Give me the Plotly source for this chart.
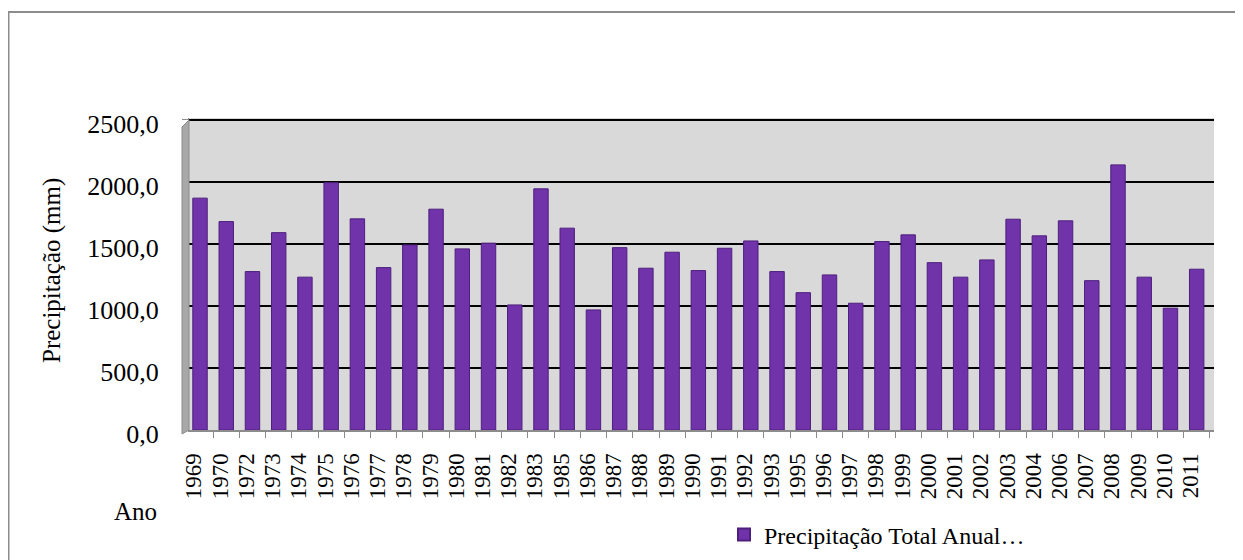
import plotly.graph_objects as go

anos = ["1969", "1970", "1972", "1973", "1974", "1975", "1976", "1977", "1978", "1979",
        "1980", "1981", "1982", "1983", "1985", "1986", "1987", "1988", "1989", "1990",
        "1991", "1992", "1993", "1995", "1996", "1997", "1998", "1999", "2000", "2001",
        "2002", "2003", "2004", "2006", "2007", "2008", "2009", "2010", "2011"]
precipitacao = [1869, 1680, 1277, 1591, 1232, 1994, 1702, 1309, 1492, 1780,
                1460, 1506, 1008, 1944, 1627, 968, 1470, 1304, 1433, 1285,
                1465, 1524, 1277, 1107, 1250, 1022, 1519, 1573, 1349, 1232,
                1371, 1699, 1565, 1686, 1204, 2137, 1232, 982, 1296]
y_ticks = [0, 500, 1000, 1500, 2000, 2500]
serie_nome = "Precipitação Total Anual…"

# page body margin of 8px offsets the figure; work in screen coordinates
OFF = 8
W, H = 1243 - OFF, 560 - OFF
PL, PR, PT, PB = 189, 1214, 118, 430  # plot area in screen coords
L, R, T, B = PL - OFF, W - (PR - OFF), PT - OFF, H - (PB - OFF)
PW, PH = W - L - R, H - T - B


def px(x):
    return (x - OFF - L) / PW


def py(y):
    return (H - B - (y - OFF)) / PH


FONT = "Liberation Serif"
PURPLE = "#7033AA"

fig = go.Figure()
fig.add_trace(go.Bar(
    x=anos, y=precipitacao, name=serie_nome,
    marker=dict(color=PURPLE, line=dict(color="#4E1F7E", width=1)),
    width=0.55,
))

fig.update_layout(
    width=W, height=H,
    margin=dict(l=L, r=R, t=T, b=B, autoexpand=False),
    paper_bgcolor="white",
    plot_bgcolor="#d9d9d9",
    separators=",.",
    font=dict(family=FONT, color="black", size=23),
    showlegend=True,
    legend=dict(
        x=px(724), y=py(535), xanchor="left", yanchor="middle",
        xref="paper", yref="paper",
        font=dict(family=FONT, size=24, color="black"),
        bgcolor="rgba(0,0,0,0)", itemsizing="constant",
    ),
    xaxis=dict(
        type="category",
        range=[-0.42, 38.66],
        tickmode="array", tickvals=anos, ticktext=anos,
        tickangle=-90,
        tickfont=dict(family=FONT, size=23, color="black"),
        ticks="outside", ticklen=6, tickcolor="#8c8c8c", tickwidth=1,
        tickson="boundaries",
        showline=True, linecolor="#8c8c8c", linewidth=2,
        showgrid=False,
        ticklabelstandoff=12,
        ticklabelshift=-6,
    ),
    yaxis=dict(
        range=[0, 2515],
        tickvals=y_ticks,
        tickformat=".1f",
        tickfont=dict(family=FONT, size=26, color="black"),
        ticks="outside", ticklen=6, tickcolor="#8c8c8c", tickwidth=1,
        showline=True, linecolor="#8c8c8c", linewidth=1,
        showgrid=True, gridcolor="black", gridwidth=2,
        zeroline=False,
        ticklabelstandoff=18,
        ticklabelshift=4,
    ),
    shapes=[
        # outer chart border
        dict(type="rect", xref="paper", yref="paper",
             x0=px(8.5), x1=px(1260), y0=py(580), y1=py(12),
             line=dict(color="#8c8c8c", width=2), fillcolor="rgba(0,0,0,0)",
             layer="above"),
        # 3D side wall
        dict(type="path", xref="paper", yref="paper",
             path=f"M {px(182)},{py(127)} L {px(189)},{py(120)} L {px(189)},{py(430)} L {px(182)},{py(434)} Z",
             fillcolor="#a8a8a8", line=dict(color="#8c8c8c", width=1), layer="above"),
    ],
    annotations=[
        dict(text="Precipitação (mm)", x=px(52), y=py(271), xref="paper", yref="paper",
             textangle=-90, showarrow=False, xanchor="center", yanchor="middle",
             font=dict(family=FONT, size=25, color="black")),
        dict(text="Ano", x=px(135), y=py(511), xref="paper", yref="paper",
             showarrow=False, xanchor="center", yanchor="middle",
             font=dict(family=FONT, size=25, color="black")),
    ],
)

fig.write_html("out.html")
